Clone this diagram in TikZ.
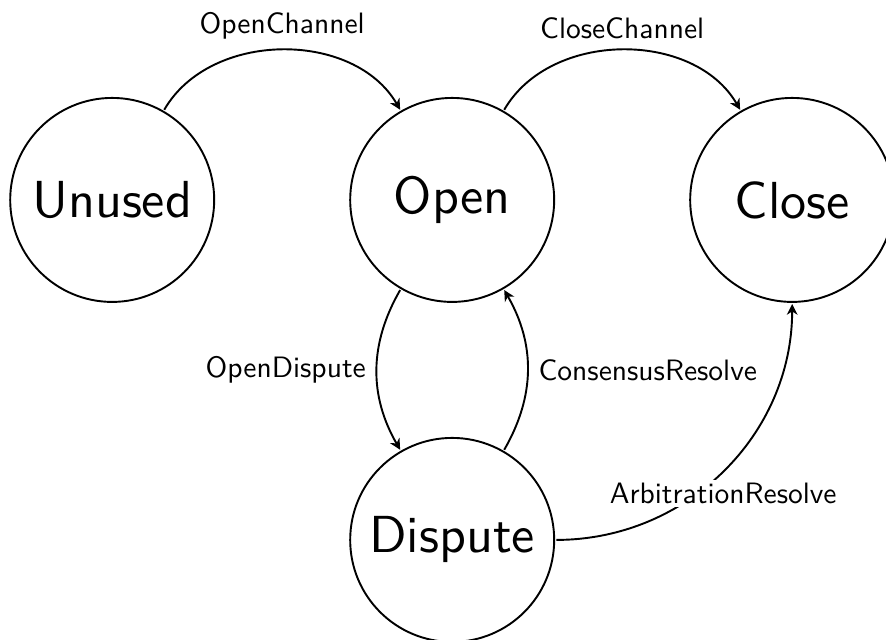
\documentclass[tikz,border=0pt]{standalone}
\usepackage{tikz}
\usetikzlibrary{arrows.meta}
\renewcommand{\familydefault}{\sfdefault}

\begin{document}
\begin{tikzpicture}[
    state/.style={circle, draw, thick, scale=2.18, minimum size=3cm/2.18, inner sep=0pt},
    trans/.style={-{Stealth[length=4.5pt, width=4.5pt, inset=1.4pt]}, thick},
    lbl/.style={scale=1.235}
  ]
  \useasboundingbox (-1.65,-6.46) rectangle (11.38,2.94);
  % channel states
  \node[state] (unused) at (0,0) {Unused};
  \node[state] (open) at (5,0) {Open};
  \node[state] (close) at (10,0) {Close};
  \node[state] (dispute) at (5,-5) {Dispute};

  % transitions
  \draw[trans] (unused) to[bend left=60] node[lbl, above] {OpenChannel} (open);
  \draw[trans] (open) to[bend left=60] node[lbl, above] {CloseChannel} (close);
  \draw[trans] (open) to[bend right=30] node[lbl, left] {OpenDispute} (dispute);
  \draw[trans] (dispute) to[bend right=30] node[lbl, right] {ConsensusResolve} (open);
  \draw[trans] (dispute) to[out=0, in=-90]
    node[lbl, below=2.8pt, fill=white, inner sep=1pt] {ArbitrationResolve} (close);
\end{tikzpicture}
\end{document}
